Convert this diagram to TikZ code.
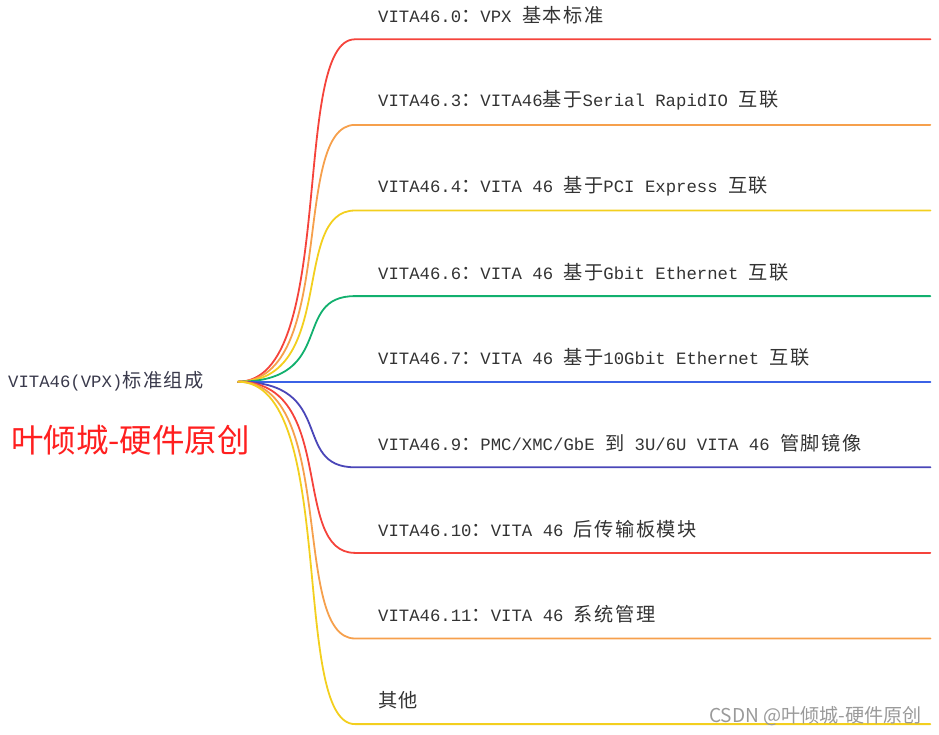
\documentclass[tikz,border=0pt]{standalone}
\usepackage{fontspec}
\setmonofont{Liberation Mono}
\newfontfamily\cjkfont{Noto Sans CJK SC}
\newfontfamily\cjklabel[LetterSpace=8]{Noto Sans CJK SC}
\usetikzlibrary{positioning}
\definecolor{mapred}{HTML}{F5433B}
\definecolor{maporange}{HTML}{F6A04C}
\definecolor{mapyellow}{HTML}{F3CF1E}
\definecolor{mapgreen}{HTML}{12B06E}
\definecolor{mapblue}{HTML}{3B62E6}
\definecolor{mapindigo}{HTML}{4A46B8}
\definecolor{labelgray}{HTML}{333333}
\definecolor{rootgray}{HTML}{3A3A4C}
\definecolor{markred}{HTML}{FF1F1F}
\definecolor{markgray}{HTML}{9A9A9A}
\newcommand{\zh}[1]{{\cjklabel\fontsize{19.2}{22}\selectfont #1}}
\newcommand{\ws}{\hspace*{10.4pt}}
\newcommand{\monofont}{\ttfamily\fontsize{17.3}{20}\selectfont}

\begin{document}
\begin{tikzpicture}[
  x=1pt,y=-1pt,
  branch/.style={anchor=south west,inner xsep=23pt,inner ysep=0pt,
                 minimum height=48pt,text width=529pt,align=left,
                 font=\monofont,text=labelgray},
  link/.style={line width=1.8pt,line cap=round}
]
  \useasboundingbox (0,0) rectangle (939,734);
  \node[anchor=west,inner sep=0pt,text=rootgray,font=\monofont] (root) at (8,381.7) {VITA46(VPX)\zh{标准组成}};
  \coordinate (hub) at (238,381.7);
  \node[branch] (v0) at (355,39.3) {VITA46.0\zh{：}VPX\ws\zh{基本标准}};
  \node[branch] (v3) at (355,124.9) {VITA46.3\zh{：}VITA46\zh{基于}Serial\ws RapidIO\ws\zh{互联}};
  \node[branch] (v4) at (355,210.5) {VITA46.4\zh{：}VITA\ws 46\ws\zh{基于}PCI\ws Express\ws\zh{互联}};
  \node[branch] (v6) at (355,296.1) {VITA46.6\zh{：}VITA\ws 46\ws\zh{基于}Gbit\ws Ethernet\ws\zh{互联}};
  \node[branch] (v7) at (355,381.7) {VITA46.7\zh{：}VITA\ws 46\ws\zh{基于}10Gbit\ws Ethernet\ws\zh{互联}};
  \node[branch] (v9) at (355,467.3) {VITA46.9\zh{：}PMC/XMC/GbE\ws\zh{到}\ws 3U/6U\ws VITA\ws 46\ws\zh{管脚镜像}};
  \node[branch] (v10) at (355,552.9) {VITA46.10\zh{：}VITA\ws 46\ws\zh{后传输板模块}};
  \node[branch] (v11) at (355,638.5) {VITA46.11\zh{：}VITA\ws 46\ws\zh{系统管理}};
  \node[branch] (other) at (355,724.1) {\zh{其他}};
  % connectors
  \draw[link,mapred] (hub) .. controls +(100,0) and +(-65,0) .. (v0.south west) -- (v0.south east);
  \draw[link,maporange] (hub) .. controls +(100,0) and +(-65,0) .. (v3.south west) -- (v3.south east);
  \draw[link,mapyellow] (hub) .. controls +(100,0) and +(-65,0) .. (v4.south west) -- (v4.south east);
  \draw[link,mapgreen] (hub) .. controls +(100,0) and +(-65,0) .. (v6.south west) -- (v6.south east);
  \draw[link,mapblue] (hub) -- (v7.south east);
  \draw[link,mapindigo] (hub) .. controls +(100,0) and +(-65,0) .. (v9.south west) -- (v9.south east);
  \draw[link,mapred] (hub) .. controls +(100,0) and +(-65,0) .. (v10.south west) -- (v10.south east);
  \draw[link,maporange] (hub) .. controls +(100,0) and +(-65,0) .. (v11.south west) -- (v11.south east);
  \draw[link,mapyellow] (hub) .. controls +(100,0) and +(-65,0) .. (other.south west) -- (other.south east);
  % watermarks
  \node[anchor=west,inner sep=0pt,text=markred,
        font=\cjkfont\fontsize{32.5}{36}\selectfont] (mark) at (11,440) {叶倾城-硬件原创};
  \node[anchor=east,inner sep=0pt,text=markgray,
        font=\cjkfont\fontsize{19.1}{22}\selectfont] (csdn) at (922,716) {CSDN @叶倾城-硬件原创};
\end{tikzpicture}
\end{document}
